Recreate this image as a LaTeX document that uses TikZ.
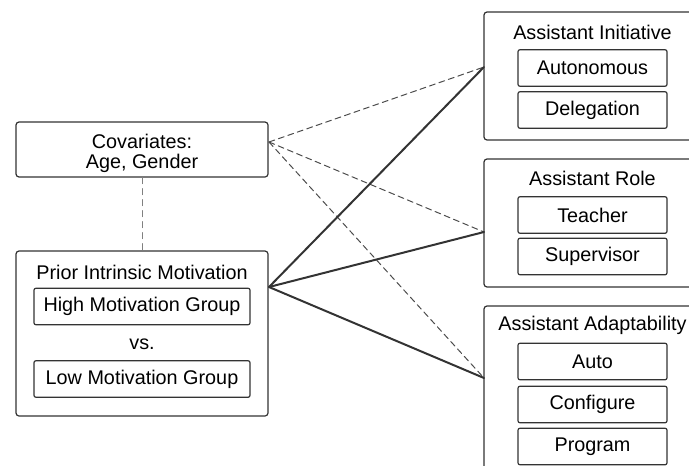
\documentclass[tikz,border=0pt]{standalone}
\usepackage{fontspec}
\setmainfont{Liberation Sans}
\begin{document}
\begin{tikzpicture}[x=0.5pt,y=-0.5pt,line cap=round,line join=round,
  groupbox/.style={draw=black!80,line width=0.6pt,rounded corners=1.5pt,inner sep=0pt},
  levelbox/.style={draw=black!80,line width=0.6pt,rounded corners=1pt,inner sep=0pt,minimum height=18.3pt,font=\fontsize{9.9}{11}\selectfont},
  boxtitle/.style={inner sep=0pt,font=\fontsize{9.9}{11}\selectfont},
  effect/.style={line width=1pt,draw=black!80},
  covlink/.style={line width=0.5pt,draw=black!70,dash pattern=on 3pt off 2pt}]
\clip (0,0) rectangle (689,465);
% left side
\node[groupbox,minimum width=126pt,minimum height=27.5pt] (cov) at (142,149.5) {};
\node[boxtitle,align=center,font=\fontsize{9.9}{10}\selectfont] (covtitle) at (142,153) {Covariates:\\Age, Gender};
\node[groupbox,minimum width=126pt,minimum height=82.5pt] (prior) at (142,333.5) {};
\node[boxtitle] (priortitle) at (142,272) {Prior Intrinsic Motivation};
\node[levelbox,minimum width=108pt] (high) at (142,306.5) {High Motivation Group};
\node[boxtitle] (vs) at (142,344) {vs.};
\node[levelbox,minimum width=108pt] (low) at (142,379) {Low Motivation Group};
% right side
\node[groupbox,minimum width=108.5pt,minimum height=64pt] (init) at (592.5,76) {};
\node[boxtitle] (inittitle) at (592.5,32) {Assistant Initiative};
\node[levelbox,minimum width=74.5pt] (auton) at (592.5,68) {Autonomous};
\node[levelbox,minimum width=74.5pt] (deleg) at (592.5,110) {Delegation};
\node[groupbox,minimum width=108.5pt,minimum height=64pt] (role) at (592.5,223) {};
\node[boxtitle] (roletitle) at (592.5,178) {Assistant Role};
\node[levelbox,minimum width=74.5pt] (teach) at (592.5,215) {Teacher};
\node[levelbox,minimum width=74.5pt] (superv) at (592.5,256.5) {Supervisor};
\node[groupbox,minimum width=108.5pt,minimum height=85pt] (adapt) at (592.5,391) {};
\node[boxtitle] (adapttitle) at (592.5,325) {Assistant Adaptability};
\node[levelbox,minimum width=74.5pt] (auto) at (592.5,361.5) {Auto};
\node[levelbox,minimum width=74.5pt] (config) at (592.5,404.5) {Configure};
\node[levelbox,minimum width=74.5pt] (prog) at (592.5,446.5) {Program};
% junctions on the box edges
\coordinate (covJ) at (269,142);
\coordinate (priorJ) at (269,287);
\coordinate (initJ) at (484,67);
\coordinate (roleJ) at (484,232);
\coordinate (adaptJ) at (484,378);
\draw[line width=0.5pt,draw=black!50,dash pattern=on 3pt off 2.5pt] (cov) -- (prior);
\draw[covlink] (covJ) -- (initJ);
\draw[covlink] (covJ) -- (roleJ);
\draw[covlink] (covJ) -- (adaptJ);
\draw[effect] (priorJ) -- (initJ);
\draw[effect] (priorJ) -- (roleJ);
\draw[effect] (priorJ) -- (adaptJ);
\end{tikzpicture}
\end{document}
